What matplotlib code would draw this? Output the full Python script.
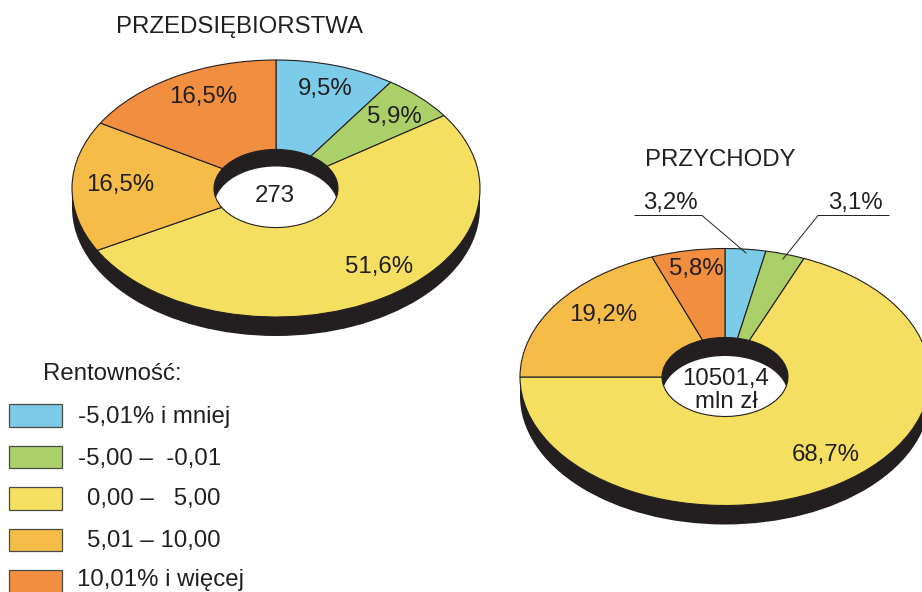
import matplotlib
matplotlib.use("Agg")
import matplotlib.pyplot as plt
from matplotlib.patches import Ellipse, Rectangle

plt.rcParams['font.family'] = ['Liberation Sans', 'DejaVu Sans']

W, H = 922, 592

colors = ['#7ccbe8', '#abd06a', '#f4df60', '#f5bd47', '#f28e40']
firm_values = [9.5, 5.9, 51.6, 16.5, 16.5]
income_values = [3.2, 3.1, 68.7, 19.2, 5.8]
legend_labels = ['-5,01% i mniej', '-5,00 –  -0,01', '0,00 –   5,00', '5,01 – 10,00', '10,01% i więcej']
legend_x = [78, 78, 87, 87, 77]
legend_y = [415, 457, 498, 540, 578.5]
dark = '#231f20'

fig = plt.figure(figsize=(W / 100, H / 100), dpi=100)

# background axes in image pixels (y goes down)
bg = fig.add_axes([0, 0, 1, 1])
bg.set_xlim(0, W)
bg.set_ylim(H, 0)
bg.axis('off')


def donut(cx, cy, vals, rx=204, ry=128.5, depth=19, hrx=62, hry=41):
    # extruded side
    bg.add_patch(Ellipse((cx, cy + depth), 2 * rx, 2 * ry, fc=dark, ec='none', zorder=1))
    bg.add_patch(Rectangle((cx - rx, cy), 2 * rx, depth, fc=dark, ec='none', zorder=1))
    # floor of the hole, seen through the top surface
    hole = Ellipse((cx, cy), 2 * hrx, 2 * hry, fc=dark, ec='none', zorder=2)
    bg.add_patch(hole)
    floor = Ellipse((cx, cy + depth), 2 * hrx, 2 * hry, fc='white', ec='none', zorder=3)
    bg.add_patch(floor)
    floor.set_clip_path(hole)
    # top surface
    ax = fig.add_axes([(cx - rx) / W, 1 - (cy + ry) / H, 2 * rx / W, 2 * ry / H])
    ax.pie(vals, colors=colors, startangle=90, counterclock=False, radius=1,
           wedgeprops=dict(width=1 - hrx / rx, edgecolor=dark, linewidth=0.8))
    ax.set_aspect('auto')
    ax.set_xlim(-1, 1)
    ax.set_ylim(-1, 1)
    ax.axis('off')
    ax.patch.set_alpha(0)
    for p in ax.patches:
        p.set_clip_on(False)


donut(276, 188.5, firm_values)
donut(725, 377, income_values, rx=205, hrx=63, hry=40)

# top layer for text
top = fig.add_axes([0, 0, 1, 1], zorder=10)
top.set_xlim(0, W)
top.set_ylim(H, 0)
top.axis('off')
top.patch.set_alpha(0)

fs = 17.3


def label(x, y, s, ha='center', size=fs):
    top.text(x, y + 1.5, s, ha=ha, va='center', fontsize=size, color=dark)


label(239, 26, 'PRZEDSIĘBIORSTWA')
label(720, 158, 'PRZYCHODY')
label(112, 373, 'Rentowność:')

for x, y, v in zip([325, 394, 379, 120, 203], [88, 115, 266, 183, 96], firm_values):
    label(x, y, f'{v:.1f}'.replace('.', ',') + '%')
label(275, 194, '273')

label(670, 201, '3,2%')
label(855, 201, '3,1%')
for x, y, v in zip([826, 603, 696], [453, 314, 268], [68.7, 19.2, 5.8]):
    label(x, y, f'{v:.1f}'.replace('.', ',') + '%')
label(726, 377, '10501,4')
label(726, 400, 'mln zł')

# leader lines
top.plot([635, 702, 746], [215.5, 215.5, 253], color=dark, lw=0.7)
top.plot([889, 818, 783], [215.5, 215.5, 259], color=dark, lw=0.7)

for (y0, y1), name, x, y, c in zip([(404, 427), (446, 468), (487, 510), (529, 551), (570, 594)],
                                   legend_labels, legend_x, legend_y, colors):
    bg.add_patch(Rectangle((9, y0), 53, y1 - y0, fc=c, ec='#4a4a45', lw=0.9, zorder=2))
    label(x, y, name, ha='left')

fig.savefig('out.png', dpi=100)
